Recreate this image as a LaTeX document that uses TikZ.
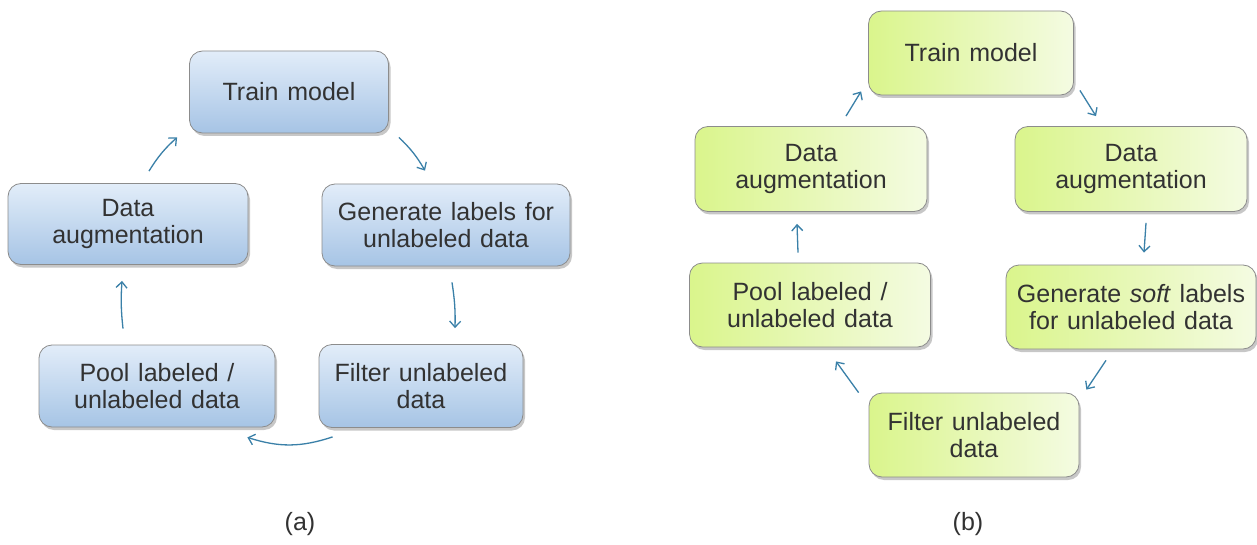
\documentclass[tikz,border=0pt]{standalone}
\usepackage{fontspec}
\setmainfont{Liberation Sans}[WordSpace={1.25,1,1}]
\usetikzlibrary{calc,shadows,arrows.meta}
\definecolor{arrcol}{RGB}{58,128,168}
\definecolor{txtcol}{RGB}{50,50,50}
\definecolor{bluetop}{RGB}{226,237,249}
\definecolor{bluebot}{RGB}{166,196,229}
\definecolor{greenleft}{RGB}{218,245,140}
\definecolor{greenright}{RGB}{244,251,226}
\definecolor{boxline}{RGB}{140,140,140}
\tikzset{
  basebox/.style={rounded corners=13pt, draw=boxline, line width=0.8pt, align=center,
    text=txtcol, font=\fontsize{25}{27}\selectfont, inner sep=0pt,
    drop shadow={shadow xshift=2pt, shadow yshift=-3pt, opacity=0.22, fill=black}},
  boxa/.style={basebox, top color=bluetop, bottom color=bluebot},
  boxb/.style={basebox, left color=greenleft, right color=greenright},
  arr/.style={draw=arrcol, line width=1.3pt, -{Straight Barb[length=6pt,width=11pt]}},
  captext/.style={font=\fontsize{25}{27}\selectfont, text=txtcol}
}
\begin{document}
\begin{tikzpicture}[x=1pt,y=-1pt]
\useasboundingbox (0,0) rectangle (1257,545);
\fill[white] (0,0) rectangle (1257,545);
% panel (a)
\node[boxa, minimum width=199pt, minimum height=82pt] (trA) at (289,92) {Train model};
\node[boxa, minimum width=240pt, minimum height=81pt] (daA) at (128,224) {Data\\augmentation};
\node[boxa, minimum width=248pt, minimum height=82pt] (genA) at (446,225) {Generate labels for\\unlabeled data};
\node[boxa, minimum width=236pt, minimum height=82pt] (poolA) at (157,386) {Pool labeled /\\unlabeled data};
\node[boxa, minimum width=204pt, minimum height=83pt] (filA) at (421,386) {Filter unlabeled\\data};
\draw[arr] ($(daA.north)+(21,-12)$) to[bend left=8] ($(trA.south west)+(-12,4)$);
\draw[arr] ($(trA.south east)+(10,4)$) to[bend left=8] ($(genA.north)+(-21,-13)$);
\draw[arr] ($(genA.south)+(6,16)$) to[bend left=5] ($(filA.north)+(34,-16)$);
\draw[arr] ($(filA.south west)+(14,9)$) to[bend left=18] ($(poolA.south east)+(-28,10)$);
\draw[arr] ($(poolA.north)+(-34,-16)$) to[bend left=5] ($(daA.south)+(-6,16)$);
\node[captext] (la) at (300,524) {(a)};
% panel (b)
\node[boxb, minimum width=205pt, minimum height=84pt] (trB) at (971,53) {Train model};
\node[boxb, minimum width=232pt, minimum height=85pt] (daL) at (811,169) {Data\\augmentation};
\node[boxb, minimum width=232pt, minimum height=85pt] (daR) at (1131,169) {Data\\augmentation};
\node[boxb, minimum width=241pt, minimum height=84pt] (poolB) at (810,305) {Pool labeled /\\unlabeled data};
\node[boxb, minimum width=250pt, minimum height=84pt] (genB) at (1131,307) {Generate \textit{soft} labels\\for unlabeled data};
\node[boxb, minimum width=210pt, minimum height=84pt] (filB) at (974,435) {Filter unlabeled\\data};
\draw[arr] ($(daL.north)+(35,-10)$) -- ($(trB.south west)+(-7,-4)$);
\draw[arr] ($(trB.south east)+(6,-5)$) -- ($(daR.north)+(-35,-10)$);
\draw[arr] ($(daR.south)+(15,11)$) -- ($(genB.north)+(13,-12)$);
\draw[arr] ($(genB.south)+(-25,11)$) -- ($(filB.north east)+(7,-3)$);
\draw[arr] ($(filB.north west)+(-10,0)$) -- ($(poolB.south)+(26,14)$);
\draw[arr] ($(poolB.north)+(-12,-10)$) -- ($(daL.south)+(-14,12)$);
\node[captext] (lb) at (968,524) {(b)};
\end{tikzpicture}
\end{document}
